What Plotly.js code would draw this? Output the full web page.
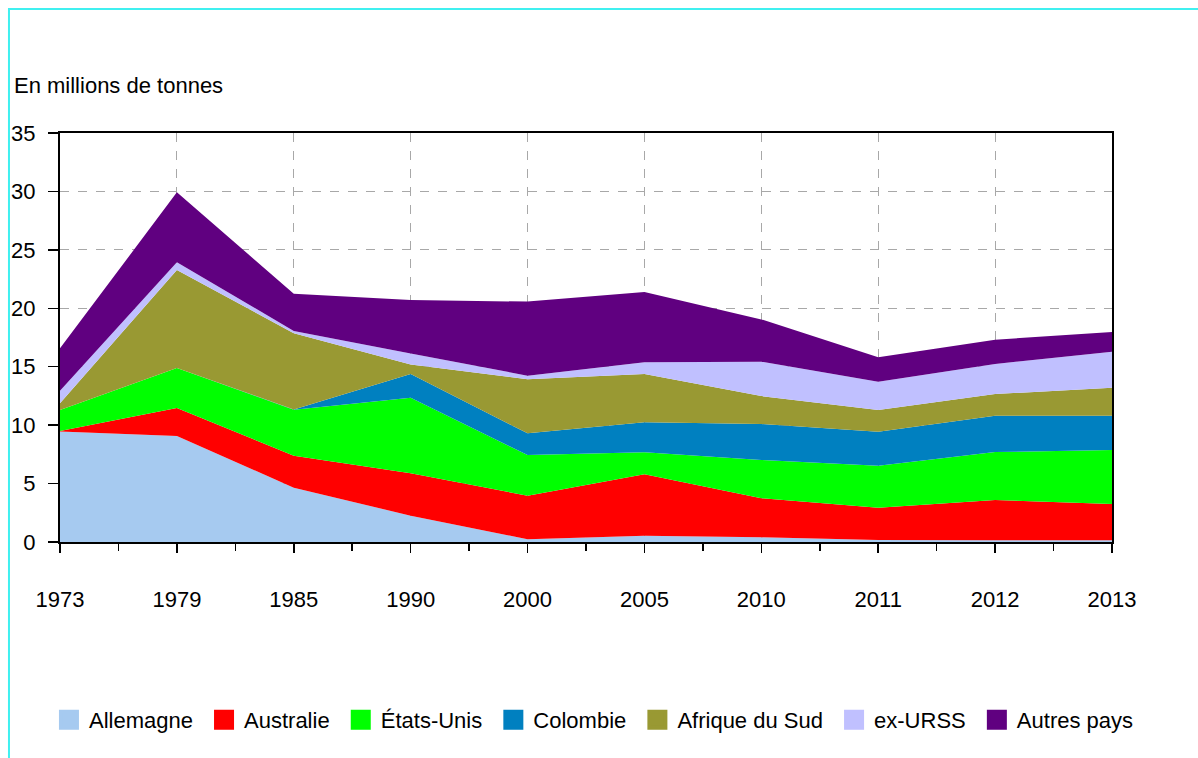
<!DOCTYPE html>
<html>
<head>
<meta charset="utf-8">
<script src="https://cdn.plot.ly/plotly-3.0.1.min.js"></script>
<style>html,body{margin:0;padding:0;background:#fff;}#chart{width:1198px;height:758px;}</style>
</head>
<body>
<div id="chart"></div>
<script>
const years = ["1973","1979","1985","1990","2000","2005","2010","2011","2012","2013"];
const allemagne   = [9.45, 9.07, 4.65, 2.25, 0.23, 0.54, 0.40, 0.17, 0.15, 0.15];
const australie   = [0.05, 2.40, 2.74, 3.63, 3.73, 5.26, 3.34, 2.77, 3.44, 3.10];
const etatsUnis   = [1.80, 3.42, 3.93, 6.47, 3.48, 1.89, 3.28, 3.59, 4.11, 4.62];
const colombie    = [0.00, 0.00, 0.02, 2.03, 1.86, 2.56, 3.08, 2.91, 3.11, 2.94];
const afriqueSud  = [0.57, 8.39, 6.52, 0.82, 4.62, 4.13, 2.39, 1.86, 1.85, 2.40];
const exURSS      = [1.08, 0.65, 0.20, 0.94, 0.31, 1.00, 2.94, 2.42, 2.57, 3.08];
const autresPays  = [3.62, 5.99, 3.19, 4.57, 6.34, 6.01, 3.62, 2.08, 2.08, 1.68];

const seriesNames  = ["Allemagne","Australie","États-Unis","Colombie","Afrique du Sud","ex-URSS","Autres pays"];
const seriesValues = [allemagne, australie, etatsUnis, colombie, afriqueSud, exURSS, autresPays];
const seriesColors = ["#A6CAF0","#FF0000","#00FF00","#0080C0","#999933","#C0C0FF","#600080"];

const xIdx = years.map((_, i) => i);
const FONT = "Liberation Sans, Arial, sans-serif";

// stacked areas (no legend of their own)
const areaTraces = seriesNames.map((name, k) => ({
  type: "scatter",
  x: xIdx,
  y: seriesValues[k],
  name: name,
  legendgroup: name,
  showlegend: false,
  stackgroup: "one",
  mode: "none",
  fillcolor: seriesColors[k],
  hoverinfo: "skip"
}));

// legend entries drawn as square swatches
const legendTraces = seriesNames.map((name, k) => ({
  type: "scatter",
  x: [null],
  y: [null],
  name: name + "\u00a0",
  legendgroup: name,
  showlegend: true,
  mode: "markers",
  marker: {symbol: "square", size: 16, color: seriesColors[k], line: {color: seriesColors[k], width: 4}},
  hoverinfo: "skip"
}));

const layout = {
  width: 1198, height: 758,
  paper_bgcolor: "#ffffff", plot_bgcolor: "#ffffff",
  margin: {l: 60, r: 86, t: 133, b: 216},
  font: {family: FONT, size: 21, color: "#000"},
  showlegend: true,
  legend: {
    orientation: "h", traceorder: "normal", itemsizing: "trace",
    x: -0.0105, xanchor: "left", y: -0.435, yanchor: "middle",
    font: {family: FONT, size: 22, color: "#000"},
    itemwidth: 30
  },
  xaxis: {
    type: "linear", range: [0, 9],
    tickvals: xIdx, ticktext: years,
    ticks: "outside", ticklen: 9, tickwidth: 1.5, tickcolor: "#000",
    ticklabelstandoff: 28,
    showgrid: true, gridcolor: "#a8a8a8", griddash: "dash", gridwidth: 1,
    zeroline: false,
    showline: true, linecolor: "#000", linewidth: 2, mirror: true,
    minor: {tick0: 0, dtick: 0.5, ticks: "outside", ticklen: 7, tickwidth: 1.5, tickcolor: "#000", showgrid: false},
    tickfont: {family: FONT, size: 22, color: "#000"},
    fixedrange: true
  },
  yaxis: {
    range: [0, 35], tick0: 0, dtick: 5,
    ticks: "outside", ticklen: 10, tickwidth: 1.5, tickcolor: "#000",
    ticklabelstandoff: 8,
    showgrid: true, gridcolor: "#a8a8a8", griddash: "dash", gridwidth: 1,
    zeroline: false,
    showline: true, linecolor: "#000", linewidth: 2, mirror: true,
    tickfont: {family: FONT, size: 22, color: "#000"},
    fixedrange: true
  },
  annotations: [{
    text: "En millions de tonnes",
    xref: "paper", yref: "paper",
    x: -0.0456, y: 1.117, xanchor: "left", yanchor: "middle",
    showarrow: false,
    font: {family: FONT, size: 22, color: "#000"}
  }],
  shapes: [{
    type: "rect", xref: "paper", yref: "paper",
    x0: -0.0485, x1: 1.2, y0: -0.7, y1: 1.303,
    line: {color: "#40F0F0", width: 2}, fillcolor: "rgba(0,0,0,0)", layer: "below"
  }]
};

Plotly.newPlot("chart", areaTraces.concat(legendTraces), layout, {displayModeBar: false, staticPlot: true});
</script>
</body>
</html>
